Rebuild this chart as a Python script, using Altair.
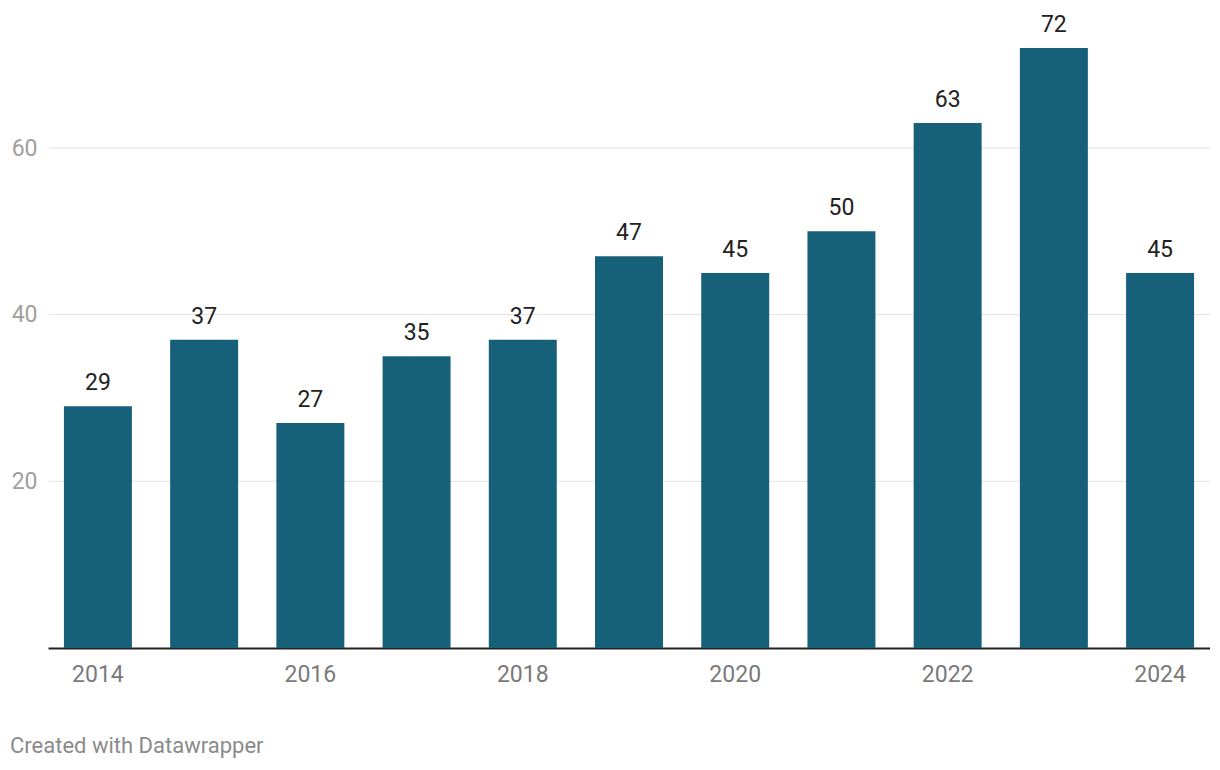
import altair as alt
import pandas as pd

years = ["2014", "2015", "2016", "2017", "2018", "2019", "2020", "2021", "2022", "2023", "2024"]
values = [29, 37, 27, 35, 37, 47, 45, 50, 63, 72, 45]
grid_values = [20, 40, 60]
x_tick_labels = ["2014", "2016", "2018", "2020", "2022", "2024"]
footer = ["Created with Datawrapper"]

df = pd.DataFrame({"year": years, "value": values})
grid_df = pd.DataFrame({"g": grid_values})
foot_df = pd.DataFrame({"t": footer})

W, H = 1162, 600
FONT = "Roboto"

x_enc = alt.X("year:N", sort=years,
              scale=alt.Scale(paddingInner=0.36, paddingOuter=0.15),
              axis=alt.Axis(title=None, values=x_tick_labels, labelAngle=0,
                            labelFont=FONT, labelFontSize=23, labelColor="#7a7a7a",
                            labelPadding=15, ticks=False, domain=True,
                            domainColor="#222222", domainWidth=2, grid=False))
y_scale = alt.Scale(domain=[0, 72], nice=False, zero=True)

grid = alt.Chart(grid_df).mark_rule(color="#e2e2e2", strokeWidth=1).encode(
    y=alt.Y("g:Q", scale=y_scale,
            axis=alt.Axis(title=None, values=grid_values, grid=False, ticks=False,
                          domain=False, labelFont=FONT, labelFontSize=23,
                          labelColor="#a0a0a0", labelPadding=11)),
    x=alt.value(1), x2=alt.value(W),
)

bars = alt.Chart(df).mark_bar(color="#17607a").encode(
    x=x_enc,
    y=alt.Y("value:Q", scale=y_scale),
)

labels = alt.Chart(df).mark_text(baseline="bottom", dy=-11, font=FONT,
                                 fontSize=23, color="#222222").encode(
    x=alt.X("year:N", sort=years),
    y=alt.Y("value:Q", scale=y_scale),
    text=alt.Text("value:Q"),
)

foot = alt.Chart(foot_df).mark_text(align="left", baseline="middle", font=FONT,
                                    fontSize=22, color="#8a8a8a").encode(
    x=alt.value(-38), y=alt.value(698), text="t:N",
)

chart = alt.layer(grid, bars, labels, foot).properties(
    width=W, height=H,
    autosize=alt.AutoSizeParams(type="none"),
    padding={"left": 40, "top": 40, "right": 0, "bottom": 112},
).configure_view(stroke=None).configure_axis(labelFont=FONT)

chart.save("out.html", embed_options={"renderer": "svg", "actions": False})
